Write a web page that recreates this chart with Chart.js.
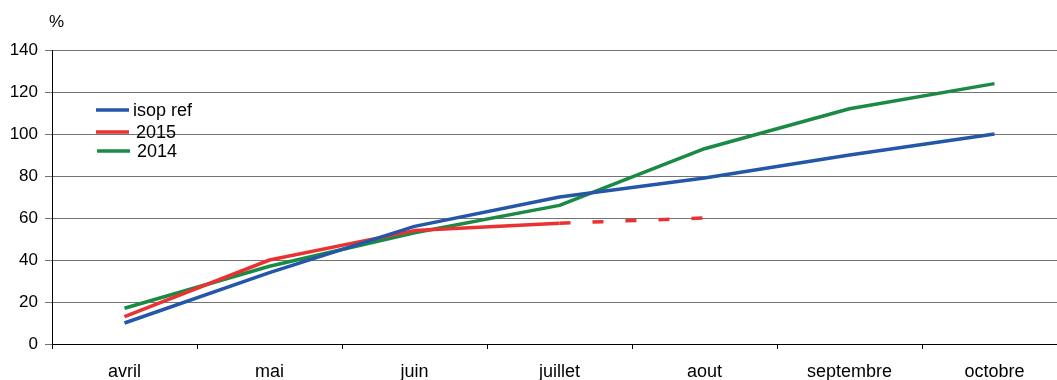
<!DOCTYPE html>
<html lang="fr">
<head>
<meta charset="utf-8">
<title>isop ref / 2015 / 2014</title>
<script src="https://cdn.jsdelivr.net/npm/chart.js@4.4.1/dist/chart.umd.min.js"></script>
<style>
  html, body { margin: 0; padding: 0; background: #fff; overflow: hidden; }
  #wrap { position: relative; width: 1057px; height: 380px; overflow: hidden; }
  canvas { display: block; }
</style>
</head>
<body>
<div id="wrap"><canvas id="c" width="1067" height="380"></canvas></div>
<script>
// Months on the horizontal axis
const months = ['avril', 'mai', 'juin', 'juillet', 'aout', 'septembre', 'octobre'];

// Cumulative percentages per month
const isopRef = [10, 34, 56, 70, 79, 90, 100];
const year2015 = [13, 40, 54, 57.5, 60, null, null];
const year2014 = [17, 37, 53, 66, 93, 112, 124];

// Vertical axis settings
const yMin = 0;
const yMax = 140;
const yStep = 20;
const yUnit = '%';

const FONT = '"Liberation Sans", Arial, sans-serif';

// The last 2015 stretch (juillet -> aout) is a projection, drawn dashed
const projectedFrom = 3;

// Legend drawn inside the plot area, and the unit label above the axis
const annotations = {
  id: 'annotations',
  afterDraw(chart) {
    const ctx = chart.ctx;
    ctx.save();
    ctx.fillStyle = '#000';
    ctx.font = '17px ' + FONT;
    ctx.textBaseline = 'middle';
    ctx.textAlign = 'left';
    ctx.fillText(yUnit, 49, 22);

    ctx.font = '18px ' + FONT;
    const spots = [
      { x: 96, y: 110, tx: 133 },
      { x: 96, y: 132, tx: 136 },
      { x: 97, y: 151, tx: 137 }
    ];
    chart.data.datasets.forEach((ds, i) => {
      const s = spots[i];
      ctx.strokeStyle = ds.borderColor;
      ctx.lineWidth = 3.5;
      ctx.beginPath();
      ctx.moveTo(s.x, s.y);
      ctx.lineTo(s.x + 33, s.y);
      ctx.stroke();
      ctx.fillText(ds.label, s.tx, s.y + 1);
    });
    ctx.restore();
  }
};

new Chart(document.getElementById('c'), {
  type: 'line',
  data: {
    labels: months,
    datasets: [
      { label: 'isop ref', data: isopRef, borderColor: '#2457a8' },
      {
        label: '2015', data: year2015, borderColor: '#ea3232',
        segment: { borderDash: c => c.p0DataIndex >= projectedFrom ? [11, 22] : undefined }
      },
      { label: '2014', data: year2014, borderColor: '#1a8a45' }
    ]
  },
  plugins: [annotations],
  options: {
    responsive: false,
    animation: false,
    devicePixelRatio: 1,
    layout: { padding: { top: 50, right: 0, left: 0, bottom: 0 } },
    elements: {
      line: { borderWidth: 3.5, tension: 0, fill: false, borderCapStyle: 'butt', borderJoinStyle: 'round' },
      point: { radius: 0, hoverRadius: 0 }
    },
    plugins: {
      legend: { display: false },
      tooltip: { enabled: false },
      title: { display: false }
    },
    scales: {
      x: {
        type: 'category',
        offset: true,
        afterFit(scale) { scale.height = 36; },
        grid: {
          offset: true,
          drawOnChartArea: false,
          drawTicks: true,
          tickLength: 5,
          tickColor: '#000',
          lineWidth: 1
        },
        border: { color: '#000', width: 1 },
        ticks: {
          color: '#000',
          padding: 12,
          maxRotation: 0,
          autoSkip: false,
          font: { family: FONT, size: 18 }
        }
      },
      y: {
        min: yMin,
        max: yMax,
        afterFit(scale) { scale.width = 52; },
        grid: {
          color: '#737373',
          lineWidth: 1,
          tickLength: 7,
          tickColor: '#737373'
        },
        border: { color: '#000', width: 1 },
        ticks: {
          stepSize: yStep,
          color: '#000',
          padding: 7,
          font: { family: FONT, size: 17 }
        }
      }
    }
  }
});
</script>
</body>
</html>
